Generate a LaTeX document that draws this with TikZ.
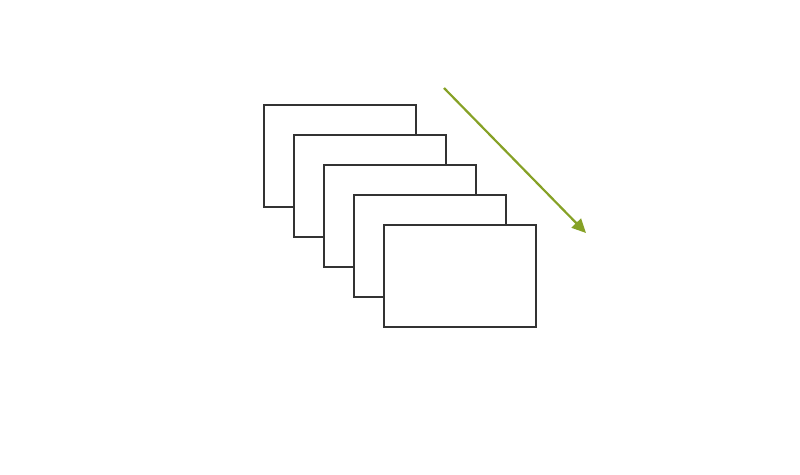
\documentclass[tikz,border=0pt]{standalone}
\usepackage{tikz}
\usetikzlibrary{arrows.meta, positioning}
\definecolor{framegray}{RGB}{51,51,51}
\definecolor{olive}{RGB}{134,161,38}
\tikzset{
	every picture/.style={>=Triangle},
	frame/.style={draw=framegray, fill=white, line width=1.3pt, minimum width=152pt, minimum height=102pt, inner sep=0pt, outer sep=0pt}
}

\begin{document}
\begin{tikzpicture}[x=1pt, y=-1pt]
	\useasboundingbox (0,0) rectangle (800,474);

	% stack of frames, back to front
	\foreach \i in {0,...,4} {
		\node[frame, anchor=north west] (frame\i) at (264+30*\i,105+30*\i) {};
	}

	% direction of the stack
	\coordinate (start) at (444,88);
	\coordinate (end) at (586,233);
	\draw[->, olive, line width=2.2pt, >={Triangle[length=14pt, width=13pt]}] (start) -- (end);
\end{tikzpicture}
\end{document}
